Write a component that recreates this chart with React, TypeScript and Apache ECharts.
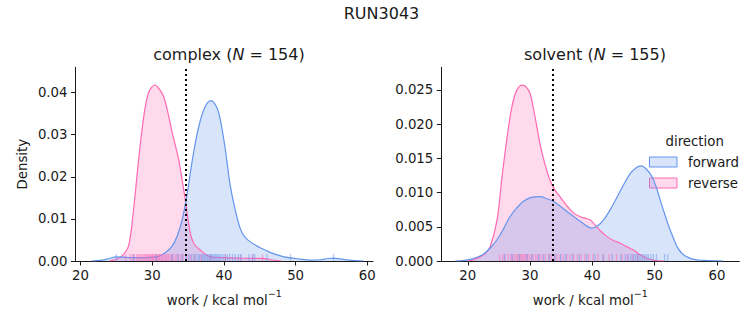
import React, { useEffect, useRef } from "react";
import * as echarts from "echarts";

// ---------- data ----------
const xTicks = [20, 30, 40, 50, 60];
const complexYTicks = [0, 0.01, 0.02, 0.03, 0.04];
const solventYTicks = [0, 0.005, 0.01, 0.015, 0.02, 0.025];

const complexForward: [number, number][] = [
  [21.5, 0], [23, 0.0002], [24, 0.0006], [25, 0.001], [26, 0.0009], [27, 0.0008], [28, 0.0008],
  [29, 0.0008], [30, 0.0009], [31, 0.0012], [32, 0.0022], [32.8, 0.0036], [33.5, 0.006],
  [34.2, 0.0099], [34.9, 0.0162], [35.6, 0.024], [36.5, 0.032], [37.4, 0.0367], [38.2, 0.0381],
  [39, 0.0365], [39.5, 0.0336], [40.2, 0.0265], [40.9, 0.0178], [41.9, 0.0099], [42.5, 0.0068],
  [43.2, 0.0052], [44.5, 0.0037], [46, 0.0024], [47, 0.0017], [48.4, 0.001], [50, 0.0006],
  [51, 0.0004], [52, 0.0002], [53.5, 0.0003], [54.5, 0.0006], [55.3, 0.0007], [56.2, 0.0005],
  [57.5, 0.0002], [59.5, 0],
];
const complexReverse: [number, number][] = [
  [24, 0], [25, 0.0004], [25.8, 0.0012], [26.7, 0.0036], [27.4, 0.0123], [28.1, 0.024],
  [28.8, 0.034], [29.5, 0.04], [30.4, 0.0418], [31, 0.0408], [31.6, 0.039], [32.2, 0.0352],
  [32.8, 0.0304], [33.3, 0.027], [33.7, 0.024], [34.2, 0.019], [34.6, 0.0147], [35.3, 0.0068],
  [35.8, 0.0042], [36.7, 0.0026], [38.1, 0.001], [40, 0.0008], [42, 0.0007], [44, 0.0006],
  [45.4, 0.0006], [46.5, 0.0003], [48, 0],
];
const solventForward: [number, number][] = [
  [18, 0], [19.5, 0.0001], [21, 0.0004], [22.5, 0.001], [23.6, 0.0019], [24.7, 0.0031],
  [25.8, 0.0048], [26.8, 0.0065], [27.9, 0.0078], [28.9, 0.0087], [30.2, 0.0093], [31.6, 0.0094],
  [32.7, 0.0091], [33.8, 0.0087], [35.4, 0.0076], [37, 0.0065], [38.5, 0.0055], [39.9, 0.0048],
  [40.8, 0.0051], [41.8, 0.006], [43, 0.0077], [44, 0.0094], [45, 0.0111], [46.1, 0.0128],
  [47, 0.0136], [47.8, 0.0139], [48.7, 0.0134], [49.6, 0.0123], [50.3, 0.0107], [50.9, 0.0089],
  [51.6, 0.0069], [52.3, 0.005], [53, 0.0034], [53.6, 0.0021], [54.4, 0.0011], [55.2, 0.0006],
  [56.5, 0.0002], [58, 0.0001], [61, 0],
];
const solventReverse: [number, number][] = [
  [20, 0], [21, 0.0002], [22, 0.0006], [22.8, 0.0011], [23.6, 0.0021], [24.7, 0.006],
  [25.5, 0.0123], [26.3, 0.018], [27.1, 0.0226], [27.9, 0.025], [28.8, 0.0257], [29.4, 0.0254],
  [30, 0.0245], [30.5, 0.0225], [31.1, 0.0196], [31.6, 0.0171], [32.2, 0.0148], [32.7, 0.0132],
  [33.2, 0.0118], [34, 0.0104], [34.8, 0.0094], [35.9, 0.0081], [37, 0.007], [38, 0.0065],
  [39, 0.0062], [39.7, 0.006], [40.2, 0.0055], [41.2, 0.0045], [42.3, 0.0036], [43.4, 0.003],
  [44.5, 0.0026], [45.5, 0.0021], [46.6, 0.0016], [47.7, 0.0009], [48.8, 0.0004], [50, 0.0001],
  [51.5, 0],
];

const complexForwardRug = [
  25.0, 27.4, 30.6, 32.8, 33.6, 34.2, 34.7, 35.1, 35.5, 35.8, 36.1, 36.4, 36.6, 36.9, 37.1, 37.3,
  37.5, 37.7, 37.9, 38.1, 38.2, 38.4, 38.6, 38.8, 39.0, 39.2, 39.4, 39.6, 39.9, 40.2, 40.5, 40.8,
  41.2, 41.6, 42.0, 42.4, 43.5, 44.0, 44.3, 46.0, 49.3, 55.3,
];
const complexReverseRug = [
  26.3, 26.9, 27.2, 27.5, 27.8, 28.0, 28.2, 28.4, 28.6, 28.8, 29.0, 29.1, 29.3, 29.4, 29.6, 29.7,
  29.9, 30.0, 30.1, 30.2, 30.4, 30.5, 30.6, 30.7, 30.9, 31.0, 31.1, 31.3, 31.4, 31.6, 31.8, 31.9,
  32.1, 32.3, 32.5, 32.7, 32.9, 33.2, 33.4, 33.7, 34.0, 34.3, 34.8, 35.3, 35.9, 36.8, 38.1, 40.2,
  42.3, 44.0, 45.4,
];
const solventForwardRug = [
  25.9, 27.1, 28.3, 29.5, 30.3, 31.4, 32.2, 33.1, 34.0, 34.9, 35.7, 36.8, 37.9, 39.1, 40.4, 41.7,
  43.2, 44.6, 45.3, 45.8, 46.2, 46.6, 46.9, 47.2, 47.5, 47.8, 48.1, 48.4, 48.7, 49.0, 49.4, 49.8,
  50.3, 51.6, 52.1,
];
const solventReverseRug = [
  25.1, 25.6, 26.0, 26.5, 26.9, 27.2, 27.5, 27.8, 28.0, 28.2, 28.4, 28.6, 28.8, 29.0, 29.2, 29.4,
  29.6, 29.9, 30.2, 30.5, 30.9, 31.2, 31.6, 32.0, 32.5, 33.0, 33.4, 33.9, 34.3, 34.8, 35.3, 35.9,
  36.4, 37.0, 37.6, 38.2, 38.8, 39.4, 40.1, 40.9, 41.8, 42.7, 43.9, 44.8, 45.6, 46.5, 47.3,
];

const complexMarker = 34.7;
const solventMarker = 33.67;

// ---------- styling ----------
const FONT = "DejaVu Sans";
const BLUE = "#6495ED";
const PINK = "#FF69B4";
const BLUE_FILL = "rgba(100,149,237,0.25)";
const PINK_FILL = "rgba(255,105,180,0.25)";
const BLUE_RUG = "rgba(100,149,237,0.6)";
const PINK_RUG = "rgba(255,105,180,0.6)";
const INK = "#1a1a1a";

function kde(name: string, data: [number, number][], idx: number, line: string, fill: string, marker?: number) {
  const s: any = {
    type: "line",
    name,
    xAxisIndex: idx,
    yAxisIndex: idx,
    data,
    smooth: 0.35,
    showSymbol: false,
    symbol: "none",
    lineStyle: { color: line, width: 1.2 },
    areaStyle: { color: fill, opacity: 1 },
    z: 2,
  };
  if (marker !== undefined) {
    s.markLine = {
      silent: true,
      symbol: "none",
      label: { show: false },
      lineStyle: { color: "#000", type: [2, 3], width: 2 },
      data: [{ xAxis: marker }],
      z: 5,
    };
  }
  return s;
}

function rug(values: number[], idx: number, color: string) {
  return {
    type: "scatter",
    xAxisIndex: idx,
    yAxisIndex: idx,
    data: values.map((v) => [v, 0]),
    symbol: "rect",
    symbolSize: [1.3, 7],
    symbolOffset: [0, -3.5],
    itemStyle: { color },
    clip: false,
    z: 3,
  };
}

function xAxisCfg(idx: number, min: number, max: number) {
  return {
    type: "value",
    gridIndex: idx,
    min,
    max,
    splitLine: { show: false },
    axisLine: { show: true, onZero: false, lineStyle: { color: INK, width: 1 } },
    axisTick: { show: true, length: 4.5, lineStyle: { color: INK, width: 1 }, customValues: xTicks },
    axisLabel: { color: INK, fontSize: 13.3, fontFamily: FONT, margin: 8, customValues: xTicks },
    name: "{a|work / kcal mol}{s|−1}",
    nameLocation: "middle",
    nameGap: 27,
    nameTextStyle: {
      color: INK,
      fontFamily: FONT,
      rich: {
        a: { fontSize: 13.3, fontFamily: FONT, color: INK, verticalAlign: "bottom", lineHeight: 19 },
        s: { fontSize: 9.5, fontFamily: FONT, color: INK, verticalAlign: "top", lineHeight: 19 },
      },
    },
  };
}

function yAxisCfg(idx: number, max: number, ticks: number[], digits: number, name?: string) {
  return {
    type: "value",
    gridIndex: idx,
    min: 0,
    max,
    splitLine: { show: false },
    axisLine: { show: true, lineStyle: { color: INK, width: 1 } },
    axisTick: { show: true, length: 4.5, lineStyle: { color: INK, width: 1 }, customValues: ticks },
    axisLabel: {
      color: INK,
      fontSize: 13.3,
      fontFamily: FONT,
      margin: 8,
      customValues: ticks,
      formatter: (v: number) => v.toFixed(digits),
    },
    name: name || "",
    nameLocation: "middle",
    nameGap: 47,
    nameTextStyle: { color: INK, fontSize: 13.3, fontFamily: FONT },
  };
}

export default function App() {
  const ref = useRef<HTMLDivElement>(null);

  useEffect(() => {
    if (!ref.current) return;
    const chart = echarts.init(ref.current, undefined, { renderer: "svg" });

    const subTitle = (pre: string, n: string, cx: number) => ({
      text: `{a|${pre} (}{i|N}{a| = ${n})}`,
      left: cx,
      top: 41,
      textAlign: "center",
      textStyle: {
        fontFamily: FONT,
        fontSize: 16,
        fontWeight: "normal",
        color: INK,
        rich: {
          a: { fontFamily: FONT, fontSize: 16, color: INK },
          i: { fontFamily: FONT, fontSize: 16, fontStyle: "italic", color: INK },
        },
      },
    });

    const option: any = {
      animation: false,
      backgroundColor: "#fff",
      title: [
        {
          text: "RUN3043",
          left: 376.5,
          top: 0,
          textAlign: "center",
          textStyle: { fontFamily: FONT, fontSize: 16, fontWeight: "normal", color: INK },
        },
        subTitle("complex", "154", 224),
        subTitle("solvent", "155", 590),
      ],
      grid: [
        { left: 75.5, top: 67.3, width: 297.5, height: 193.7 },
        { left: 441.3, top: 67.3, width: 298, height: 193.7 },
      ],
      xAxis: [xAxisCfg(0, 19.3, 60.8), xAxisCfg(1, 15.75, 63.6)],
      yAxis: [
        yAxisCfg(0, 0.046, complexYTicks, 2, "Density"),
        yAxisCfg(1, 0.0283, solventYTicks, 3),
      ],
      series: [
        kde("complex reverse", complexReverse, 0, PINK, PINK_FILL),
        kde("complex forward", complexForward, 0, BLUE, BLUE_FILL, complexMarker),
        rug(complexReverseRug, 0, PINK_RUG),
        rug(complexForwardRug, 0, BLUE_RUG),
        kde("solvent reverse", solventReverse, 1, PINK, PINK_FILL),
        kde("solvent forward", solventForward, 1, BLUE, BLUE_FILL, solventMarker),
        rug(solventReverseRug, 1, PINK_RUG),
        rug(solventForwardRug, 1, BLUE_RUG),
      ],
      graphic: [
        {
          type: "text",
          x: 694.7,
          y: 141,
          style: { text: "direction", fontFamily: FONT, fontSize: 13.3, fill: INK, align: "center", verticalAlign: "middle" },
        },
        {
          type: "rect",
          shape: { x: 649.5, y: 157, width: 27.5, height: 10 },
          style: { fill: BLUE_FILL, stroke: BLUE, lineWidth: 1 },
        },
        {
          type: "text",
          x: 688,
          y: 162,
          style: { text: "forward", fontFamily: FONT, fontSize: 13.3, fill: INK, align: "left", verticalAlign: "middle" },
        },
        {
          type: "rect",
          shape: { x: 649.5, y: 178, width: 27.5, height: 10 },
          style: { fill: PINK_FILL, stroke: PINK, lineWidth: 1 },
        },
        {
          type: "text",
          x: 688,
          y: 183,
          style: { text: "reverse", fontFamily: FONT, fontSize: 13.3, fill: INK, align: "left", verticalAlign: "middle" },
        },
      ],
    };

    chart.setOption(option);
    return () => chart.dispose();
  }, []);

  return <div ref={ref} style={{ width: 753, height: 325, position: "absolute", left: 0, top: 0 }} />;
}
